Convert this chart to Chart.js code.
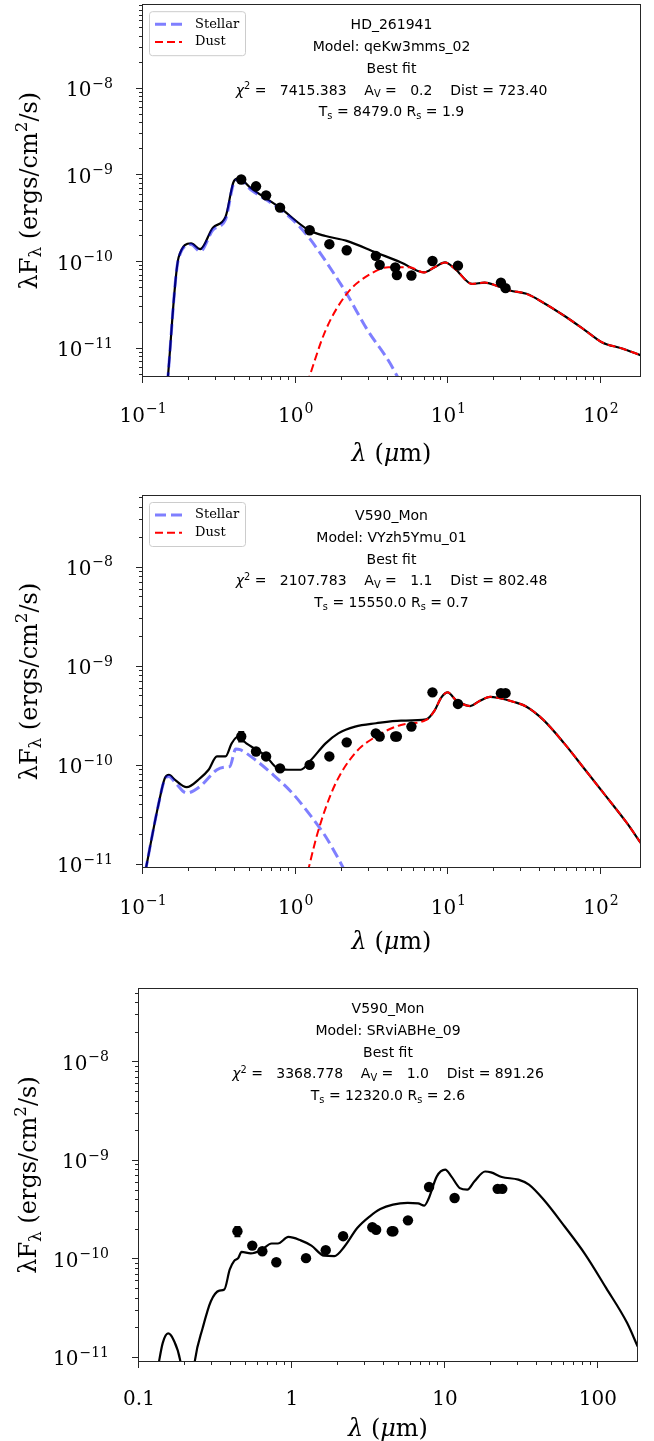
<!DOCTYPE html>
<html><head><meta charset="utf-8">
<script src="https://cdn.jsdelivr.net/npm/chart.js@4.4.1/dist/chart.umd.min.js"></script>
<style>
html,body{margin:0;padding:0;background:#fff;}
#wrap{position:relative;width:654px;height:1441px;overflow:hidden;}
.panel{position:absolute;left:0;width:654px;}
canvas{display:block;}
</style></head><body>
<div id="wrap">
<div class="panel" style="top:0;height:480px"><canvas id="c1" width="654" height="480"></canvas></div>
<div class="panel" style="top:480px;height:480px"><canvas id="c2" width="654" height="480"></canvas></div>
<div class="panel" style="top:960px;height:481px"><canvas id="c3" width="654" height="481"></canvas></div>
</div>
<script>
// ---------- tick values and labels ([base, superscript]) ----------
const xMajorTicks = [0.1, 1, 10, 100];
const xTickLabelsSci = [['10', '−1'], ['10', '0'], ['10', '1'], ['10', '2']];
const xTickLabelsPlain = [['0.1', ''], ['1', ''], ['10', ''], ['100', '']];
const yMajorTicks = [1e-11, 1e-10, 1e-9, 1e-8];
const yTickLabels = [['10', '−11'], ['10', '−10'], ['10', '−9'], ['10', '−8']];
const legendLabels = ['Stellar', 'Dust'];

// ---------- observed photometry (shared wavelengths, micron) ----------
const obsLambda = [0.44, 0.55, 0.64, 0.79, 1.235, 1.662, 2.159, 3.35, 3.55, 4.49, 4.6, 5.73, 7.87, 11.56, 22.1, 23.7];
const p1ObsFlux = [9.0e-10, 7.5e-10, 5.9e-10, 4.25e-10, 2.33e-10, 1.61e-10, 1.37e-10, 1.18e-10, 9.3e-11, 8.7e-11, 7.1e-11, 7.0e-11, 1.03e-10, 9.1e-11, 5.8e-11, 5.0e-11];
const p2ObsFlux = [1.97e-10, 1.39e-10, 1.24e-10, 9.4e-11, 1.02e-10, 1.24e-10, 1.72e-10, 2.12e-10, 1.97e-10, 1.97e-10, 1.97e-10, 2.48e-10, 5.5e-10, 4.2e-10, 5.4e-10, 5.4e-10];
const p2ObsErr  = [2.3e-11, 0, 0, 0, 0, 0, 0, 0, 0, 0, 0, 0, 0, 0, 0, 0];
const p3ObsFlux = [1.93e-10, 1.38e-10, 1.21e-10, 9.35e-11, 1.03e-10, 1.24e-10, 1.72e-10, 2.12e-10, 2.0e-10, 1.93e-10, 1.93e-10, 2.49e-10, 5.43e-10, 4.2e-10, 5.2e-10, 5.2e-10];
const p3ObsErr  = [2.2e-11, 0, 0, 0, 0, 0, 0, 0, 0, 0, 0, 0, 0, 0, 0, 0];

// ---------- panel 1: HD_261941 ----------
const p1Info = ['HD_261941', 'qeKw3mms_02', '7415.383', '0.2', '723.40', '8479.0', '1.9'];
const p1TotalLam  = [0.1445, 0.171, 0.2065, 0.237, 0.287, 0.347, 0.394, 0.424, 0.506, 0.787, 1.22, 1.57, 2.16, 3.36, 4.90, 6.93, 8.12, 9.51, 11.1, 14.3, 17.3, 20.9, 25.3, 32.5, 41.9, 57.4, 78.7, 101, 139, 182];
const p1TotalFlux = [4.0e-12, 1.13e-10, 1.65e-10, 1.41e-10, 2.5e-10, 3.32e-10, 8.6e-10, 9.25e-10, 7.2e-10, 4.25e-10, 2.33e-10, 2.0e-10, 1.76e-10, 1.29e-10, 9.9e-11, 7.6e-11, 8.7e-11, 9.9e-11, 8.3e-11, 5.6e-11, 5.8e-11, 5.3e-11, 4.7e-11, 4.3e-11, 3.4e-11, 2.4e-11, 1.63e-11, 1.19e-11, 1.0e-11, 8.4e-12];
const p1StellarLam  = [0.1445, 0.171, 0.2065, 0.237, 0.287, 0.347, 0.394, 0.424, 0.506, 0.787, 1.0, 1.22, 1.57, 2.16, 2.96, 4.05, 4.9];
const p1StellarFlux = [4.0e-12, 1.1e-10, 1.6e-10, 1.33e-10, 2.35e-10, 3.1e-10, 8.2e-10, 8.9e-10, 6.9e-10, 4.1e-10, 2.86e-10, 1.92e-10, 1.03e-10, 4.3e-11, 1.63e-11, 7.3e-12, 4.0e-12];
const p1DustLam  = [1.19, 1.57, 2.16, 2.96, 4.05, 5.56, 6.93, 8.12, 9.51, 11.1, 14.3, 17.3, 20.9, 25.3, 32.5, 41.9, 57.4, 78.7, 101, 139, 182];
const p1DustFlux = [4.0e-12, 1.63e-11, 4.3e-11, 6.97e-11, 8.7e-11, 8.7e-11, 7.6e-11, 8.7e-11, 9.9e-11, 8.3e-11, 5.6e-11, 5.8e-11, 5.3e-11, 4.7e-11, 4.3e-11, 3.4e-11, 2.4e-11, 1.63e-11, 1.19e-11, 1.0e-11, 8.4e-12];

// ---------- panel 2: V590_Mon (VYzh5Ymu_01) ----------
const p2Info = ['V590_Mon', 'VYzh5Ymu_01', '2107.783', '1.1', '802.48', '15550.0', '0.7'];
const p2TotalLam  = [0.1035, 0.126, 0.139, 0.148, 0.162, 0.193, 0.237, 0.269, 0.305, 0.347, 0.381, 0.419, 0.475, 0.546, 0.635, 0.762, 0.893, 1.08, 1.26, 1.57, 1.90, 2.45, 3.36, 4.90, 7.16, 8.12, 9.0, 9.9, 11.2, 13.9, 16.0, 18.8, 21.0, 26.9, 32.5, 41.9, 57.4, 78.7, 108, 148, 182];
const p2TotalFlux = [8.5e-12, 4.0e-11, 7.5e-11, 8.1e-11, 7.2e-11, 6.07e-11, 7.5e-11, 9.1e-11, 1.24e-10, 1.24e-10, 1.68e-10, 1.97e-10, 1.68e-10, 1.47e-10, 1.26e-10, 9.4e-11, 9.1e-11, 9.1e-11, 1.14e-10, 1.68e-10, 2.12e-10, 2.48e-10, 2.68e-10, 2.85e-10, 2.94e-10, 3.6e-10, 4.9e-10, 5.5e-10, 4.6e-10, 4.0e-10, 4.5e-10, 4.95e-10, 4.85e-10, 4.4e-10, 3.94e-10, 2.9e-10, 1.68e-10, 9.1e-11, 4.9e-11, 2.63e-11, 1.66e-11];
const p2StellarLam  = [0.1035, 0.126, 0.139, 0.148, 0.162, 0.193, 0.237, 0.305, 0.347, 0.37, 0.405, 0.432, 0.546, 0.693, 0.95, 1.22, 1.57, 2.05, 2.3];
const p2StellarFlux = [8.5e-12, 4.0e-11, 7.3e-11, 7.8e-11, 6.8e-11, 5.3e-11, 6.2e-11, 9.1e-11, 9.7e-11, 9.8e-11, 1.47e-10, 1.45e-10, 1.14e-10, 8.4e-11, 5.3e-11, 3.3e-11, 1.93e-11, 9.3e-12, 6.5e-12];
const p2DustLam  = [1.2, 1.39, 1.79, 2.45, 3.36, 4.90, 7.16, 8.12, 9.0, 9.9, 11.2, 13.9, 16.0, 18.8, 21.0, 26.9, 32.5, 41.9, 57.4, 78.7, 108, 148, 182];
const p2DustFlux = [8.5e-12, 2.08e-11, 6.2e-11, 1.34e-10, 1.97e-10, 2.58e-10, 2.9e-10, 3.6e-10, 4.9e-10, 5.5e-10, 4.6e-10, 4.0e-10, 4.5e-10, 4.95e-10, 4.85e-10, 4.4e-10, 3.94e-10, 2.9e-10, 1.68e-10, 9.1e-11, 4.9e-11, 2.63e-11, 1.66e-11];

// ---------- panel 3: V590_Mon (SRviABHe_09) ----------
const p3Info = ['V590_Mon', 'SRviABHe_09', '3368.778', '1.0', '891.26', '12320.0', '2.6'];
const p3TotalLam  = [0.133, 0.143, 0.155, 0.168, 0.187, 0.21, 0.231, 0.261, 0.295, 0.335, 0.361, 0.392, 0.418, 0.445, 0.468, 0.537, 0.628, 0.736, 0.809, 0.947, 1.14, 1.34, 1.62, 1.89, 2.21, 2.67, 3.23, 3.78, 4.57, 5.70, 6.67, 7.33, 7.80, 8.85, 10.04, 11.0, 12.5, 14.0, 15.6, 18.3, 20.0, 23.5, 30.2, 35.4, 44.1, 60.4, 82.7, 113, 155, 182];
const p3TotalFlux = [8e-12, 1.42e-11, 1.77e-11, 1.53e-11, 9e-12, 2e-12, 9e-12, 2.02e-11, 3.76e-11, 4.82e-11, 4.94e-11, 7.9e-11, 9.6e-11, 1.03e-10, 1.19e-10, 1.15e-10, 1.24e-10, 1.45e-10, 1.45e-10, 1.69e-10, 1.56e-10, 1.38e-10, 1.09e-10, 1.08e-10, 1.36e-10, 2.08e-10, 2.74e-10, 3.25e-10, 3.60e-10, 3.74e-10, 3.7e-10, 3.52e-10, 4.1e-10, 6.97e-10, 8.14e-10, 6.97e-10, 5.3e-10, 5.1e-10, 6.2e-10, 7.8e-10, 7.65e-10, 6.87e-10, 6.45e-10, 5.74e-10, 4.05e-10, 2.17e-10, 1.12e-10, 5.14e-11, 2.27e-11, 1.3e-11];

// ---------- helpers ----------
function buildTicks(min, max) {
  const out = [];
  for (let e = Math.floor(Math.log10(min)); e <= Math.ceil(Math.log10(max)); e++) {
    for (let m = 1; m <= 9; m++) {
      const v = m * Math.pow(10, e);
      if (v >= min * (1 - 1e-9) && v <= max * (1 + 1e-9)) out.push({ value: v });
    }
  }
  return out;
}
function isDecade(v) { const l = Math.log10(v); return Math.abs(l - Math.round(l)) < 1e-6; }
function pts(l, f) { return l.map((x, i) => ({ x: x, y: f[i] })); }
function curve(l, f, color, width, dash, order) {
  return { data: pts(l, f), showLine: true, borderColor: color, borderWidth: width, borderDash: dash,
    pointRadius: 0, pointHoverRadius: 0, fill: false, cubicInterpolationMode: 'monotone', clip: 0, order: order };
}
function obs(l, f) {
  return { data: pts(l, f), showLine: false, pointRadius: 5.2, pointHoverRadius: 5.2,
    pointBackgroundColor: '#000', pointBorderColor: '#000', pointBorderWidth: 0, order: 0, clip: 0 };
}
function statLines(info) {
  return [
    [{ t: info[0] }],
    [{ t: 'Model: ' + info[1] }],
    [{ t: 'Best fit' }],
    [{ t: 'χ', it: 1 }, { t: '2', m: 1 }, { t: ' =   ' + info[2] + '    A' }, { t: 'V', m: -1 }, { t: ' =   ' + info[3] + '    Dist = ' + info[4] }],
    [{ t: 'T' }, { t: 's', m: -1 }, { t: ' = ' + info[5] + ' R' }, { t: 's', m: -1 }, { t: ' = ' + info[6] }]
  ];
}
const xTitleSegs = [{ t: 'λ', it: 1 }, { t: ' (' }, { t: 'μ', it: 1 }, { t: 'm)' }];
const yTitleSegs = [{ t: 'λF' }, { t: 'λ', m: -1 }, { t: ' (ergs/cm' }, { t: '2', m: 1 }, { t: '/s)' }];

function drawRich(ctx, segs, cx, cy, size, family) {
  const parts = segs.map(s => {
    const sz = s.m ? size * 0.7 : size;
    const font = (s.it ? 'italic ' : '') + sz + 'px "' + family + '"';
    ctx.font = font;
    return { t: s.t, m: s.m || 0, font: font, w: ctx.measureText(s.t).width };
  });
  const total = parts.reduce((a, p) => a + p.w, 0);
  let x = cx - total / 2;
  ctx.textAlign = 'left'; ctx.textBaseline = 'alphabetic';
  const base = cy + size * 0.36;
  parts.forEach(p => {
    ctx.font = p.font;
    const dy = p.m === 1 ? -size * 0.42 : (p.m === -1 ? size * 0.2 : 0);
    ctx.fillText(p.t, x, base + dy);
    x += p.w;
  });
}
// tick label: [base, sup] drawn at baseline y; align 'center' or 'right'
function drawTickLabel(ctx, lab, x, y, align) {
  const baseFont = '20px "DejaVu Serif"', supFont = '14px "DejaVu Serif"';
  ctx.font = baseFont; const wb = ctx.measureText(lab[0]).width;
  ctx.font = supFont; const ws = lab[1] ? ctx.measureText(lab[1]).width + 1 : 0;
  const total = wb + ws;
  const x0 = align === 'right' ? x - total : x - total / 2;
  ctx.textAlign = 'left'; ctx.textBaseline = 'alphabetic';
  ctx.font = baseFont; ctx.fillText(lab[0], x0, y);
  if (lab[1]) { ctx.font = supFont; ctx.fillText(lab[1], x0 + wb + 1, y - 8.6); }
}

const decorPlugin = {
  id: 'decor',
  afterDatasetsDraw(chart, args, o) {
    if (!o.errFlux) return;
    const ctx = chart.ctx, xs = chart.scales.x, ys = chart.scales.y;
    ctx.save(); ctx.strokeStyle = '#000'; ctx.lineWidth = 1.5;
    o.errLam.forEach((lam, i) => {
      const e = o.errVal[i]; if (!e) return;
      const v = o.errFlux[i];
      const px = xs.getPixelForValue(lam), pa = ys.getPixelForValue(v - e), pb = ys.getPixelForValue(v + e);
      ctx.beginPath();
      ctx.moveTo(px, pa); ctx.lineTo(px, pb);
      ctx.moveTo(px - 3, pa); ctx.lineTo(px + 3, pa);
      ctx.moveTo(px - 3, pb); ctx.lineTo(px + 3, pb);
      ctx.stroke();
    });
    ctx.restore();
  },
  afterDraw(chart, args, o) {
    const ctx = chart.ctx, a = chart.chartArea, xs = chart.scales.x, ys = chart.scales.y;
    ctx.save();
    // frame
    ctx.strokeStyle = '#262626'; ctx.lineWidth = 1;
    ctx.strokeRect(Math.round(a.left) - 0.5, Math.round(a.top) - 0.5, Math.round(a.right - a.left) + 1, Math.round(a.bottom - a.top) + 1);
    // tick marks
    ctx.beginPath();
    buildTicks(xs.min, xs.max).forEach(t => {
      const p = Math.round(xs.getPixelForValue(t.value)) - 0.5;
      const len = isDecade(t.value) ? 7 : 4;
      ctx.moveTo(p, a.bottom); ctx.lineTo(p, a.bottom + len);
    });
    buildTicks(ys.min, ys.max).forEach(t => {
      const p = Math.round(ys.getPixelForValue(t.value)) - 0.5;
      const len = isDecade(t.value) ? 7 : 4;
      ctx.moveTo(a.left, p); ctx.lineTo(a.left - len, p);
    });
    ctx.stroke();
    // tick labels
    ctx.fillStyle = '#000';
    xMajorTicks.forEach((v, i) => {
      if (v < xs.min || v > xs.max) return;
      drawTickLabel(ctx, o.xLabels[i], xs.getPixelForValue(v), a.bottom + o.xLabelBase, 'center');
    });
    yMajorTicks.forEach((v, i) => {
      if (v < ys.min || v > ys.max) return;
      drawTickLabel(ctx, yTickLabels[i], a.left - 30, ys.getPixelForValue(v) + 7.5, 'right');
    });
    // annotation block
    o.lines.forEach((segs, i) => drawRich(ctx, segs, (a.left + a.right) / 2, a.top + 19 + i * 21.8, 14, 'DejaVu Sans'));
    // legend
    if (o.legend) {
      const bx = a.left + 6, by = a.top + 6;
      ctx.beginPath();
      ctx.roundRect(bx + 0.5, by + 0.5, 96, 44, 3);
      ctx.fillStyle = 'rgba(255,255,255,0.8)'; ctx.fill();
      ctx.strokeStyle = '#cccccc'; ctx.lineWidth = 1; ctx.stroke();
      o.legend.forEach((dsIndex, i) => {
        const ds = chart.data.datasets[dsIndex];
        const yy = a.top + 19 + i * 17.7;
        ctx.save();
        ctx.strokeStyle = ds.borderColor; ctx.lineWidth = ds.borderWidth; ctx.setLineDash(ds.borderDash);
        ctx.beginPath(); ctx.moveTo(a.left + 12, yy); ctx.lineTo(a.left + 39, yy); ctx.stroke();
        ctx.restore();
        ctx.fillStyle = '#000'; ctx.font = '13px "DejaVu Serif"';
        ctx.textAlign = 'left'; ctx.textBaseline = 'middle';
        ctx.fillText(legendLabels[i], a.left + 52, yy);
      });
    }
    // axis titles
    ctx.fillStyle = '#000';
    drawRich(ctx, xTitleSegs, (a.left + a.right) / 2, a.bottom + o.xTitleOffset, 24, 'DejaVu Serif');
    ctx.save();
    ctx.translate(o.yTitleX, (a.top + a.bottom) / 2);
    ctx.rotate(-Math.PI / 2);
    drawRich(ctx, yTitleSegs, 0, 0, 24, 'DejaVu Serif');
    ctx.restore();
    ctx.restore();
  }
};

function makeChart(id, P, datasets, decor) {
  return new Chart(document.getElementById(id), {
    type: 'scatter',
    data: { datasets: datasets },
    options: {
      responsive: false, animation: false, devicePixelRatio: 1, events: [],
      layout: { padding: { top: P.top, right: 654 - P.right, left: 0, bottom: 0 } },
      plugins: { legend: { display: false }, tooltip: { enabled: false }, decor: decor },
      scales: {
        x: {
          type: 'logarithmic', position: 'bottom', min: P.xMin, max: P.xMax,
          afterBuildTicks: s => { s.ticks = buildTicks(P.xMin, P.xMax); },
          afterFit: s => { s.height = P.H - P.bottom; s.paddingLeft = 0; s.paddingRight = 0; s.paddingTop = 0; s.paddingBottom = 0; },
          grid: { display: false, drawTicks: false }, border: { display: false },
          ticks: { display: false }
        },
        y: {
          type: 'logarithmic', position: 'left', min: P.yMin, max: P.yMax,
          afterBuildTicks: s => { s.ticks = buildTicks(P.yMin, P.yMax); },
          afterFit: s => { s.width = P.left; s.paddingLeft = 0; s.paddingRight = 0; s.paddingTop = 0; s.paddingBottom = 0; },
          grid: { display: false, drawTicks: false }, border: { display: false },
          ticks: { display: false }
        }
      }
    },
    plugins: [decorPlugin]
  });
}

const stellarColor = 'rgba(0,0,255,0.5)';
const dustColor = '#ff0000';

makeChart('c1',
  { H: 480, top: 3, bottom: 376, left: 143, right: 640, xMin: 0.1, xMax: 180, yMin: 4.84e-12, yMax: 9.25e-8 },
  [
    obs(obsLambda, p1ObsFlux),
    curve(p1StellarLam, p1StellarFlux, stellarColor, 3, [11, 5], 2),
    curve(p1DustLam, p1DustFlux, dustColor, 2, [8, 4], 1),
    curve(p1TotalLam, p1TotalFlux, '#000', 2.2, [], 3)
  ],
  { lines: statLines(p1Info), legend: [1, 2], xLabels: xTickLabelsSci, xLabelBase: 46, xTitleOffset: 76, yTitleX: 28 }
);

makeChart('c2',
  { H: 480, top: 16, bottom: 387, left: 143, right: 640, xMin: 0.1, xMax: 180, yMin: 9.5e-12, yMax: 5.27e-8 },
  [
    obs(obsLambda, p2ObsFlux),
    curve(p2StellarLam, p2StellarFlux, stellarColor, 3, [11, 5], 2),
    curve(p2DustLam, p2DustFlux, dustColor, 2, [8, 4], 1),
    curve(p2TotalLam, p2TotalFlux, '#000', 2.2, [], 3)
  ],
  { lines: statLines(p2Info), legend: [1, 2], xLabels: xTickLabelsSci, xLabelBase: 47, xTitleOffset: 73, yTitleX: 28, errLam: obsLambda, errFlux: p2ObsFlux, errVal: p2ObsErr }
);

makeChart('c3',
  { H: 481, top: 29, bottom: 401, left: 139, right: 637, xMin: 0.1, xMax: 180, yMin: 9.3e-12, yMax: 5.56e-8 },
  [
    obs(obsLambda, p3ObsFlux),
    curve(p3TotalLam, p3TotalFlux, '#000', 2.2, [], 3)
  ],
  { lines: statLines(p3Info), legend: null, xLabels: xTickLabelsPlain, xLabelBase: 43.5, xTitleOffset: 66, yTitleX: 27.5, errLam: obsLambda, errFlux: p3ObsFlux, errVal: p3ObsErr }
);
</script>
</body></html>
